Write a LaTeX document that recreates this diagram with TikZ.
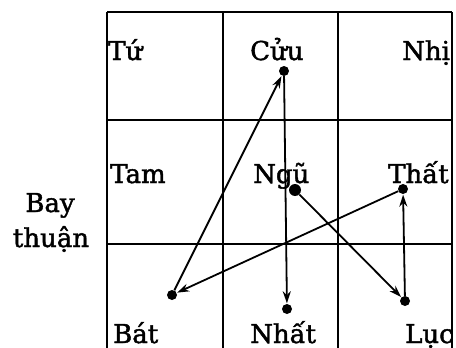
\documentclass[tikz,border=0pt]{standalone}
\usepackage{fontspec}
\setmainfont{DejaVu Serif}[BoldFont={DejaVu Serif},BoldFeatures={FakeBold=1.6}]
\usetikzlibrary{arrows.meta}
\begin{document}
\begin{tikzpicture}[x=1pt,y=-1pt,
  grid/.style={line width=1.2pt},
  lbl/.style={anchor=base west,inner sep=0pt,font=\fontsize{26}{28}\selectfont\bfseries},
  side/.style={anchor=base,inner sep=0pt,font=\fontsize{26}{28}\selectfont\bfseries},
  dot/.style={circle,fill=black,inner sep=0pt,minimum size=10pt},
  arr/.style={line width=1.8pt,-{Stealth[length=12pt,width=8pt]},shorten >=0.5pt}]
\useasboundingbox (0,0) rectangle (456,348);
% grid
\draw[grid] (107,12) -- (452,12);
\draw[grid] (107,120) -- (452,120);
\draw[grid] (107,244) -- (452,244);
\draw[grid] (107,12) -- (107,348);
\draw[grid] (223,12) -- (223,348);
\draw[grid] (338,12) -- (338,348);
\draw[grid] (452,12) -- (452,348);
% labels
\node[lbl] (l4) at (108,60) {Tứ};
\node[lbl] (l9) at (250,60) {Cửu};
\node[lbl] (l2) at (402,60) {Nhị};
\node[lbl] (l3) at (110,183) {Tam};
\node[lbl] (l5) at (253,183) {Ngũ};
\node[lbl] (l7) at (388,183) {Thất};
\node[lbl] (l8) at (113,343) {Bát};
\node[lbl] (l1) at (250,343) {Nhất};
\node[lbl] (l6) at (405,343) {Lục};
\node[side] (bay) at (50,212) {Bay};
\node[side] (thuan) at (51,247) {thuận};
% dots
\node[dot] (c9) at (284,71) {};
\node[dot,minimum size=12pt] (c5) at (295,190) {};
\node[dot] (c7) at (403,189) {};
\node[dot] (c8) at (172,295) {};
\node[dot] (c1) at (287,309) {};
\node[dot] (c6) at (405,301) {};
% arrows
\draw[arr] (c5) -- (c6);
\draw[arr] (c6) -- (c7);
\draw[arr] (c7) -- (c8);
\draw[arr] (c8) -- (c9);
\draw[arr] (c9) -- (c1);
\end{tikzpicture}
\end{document}
